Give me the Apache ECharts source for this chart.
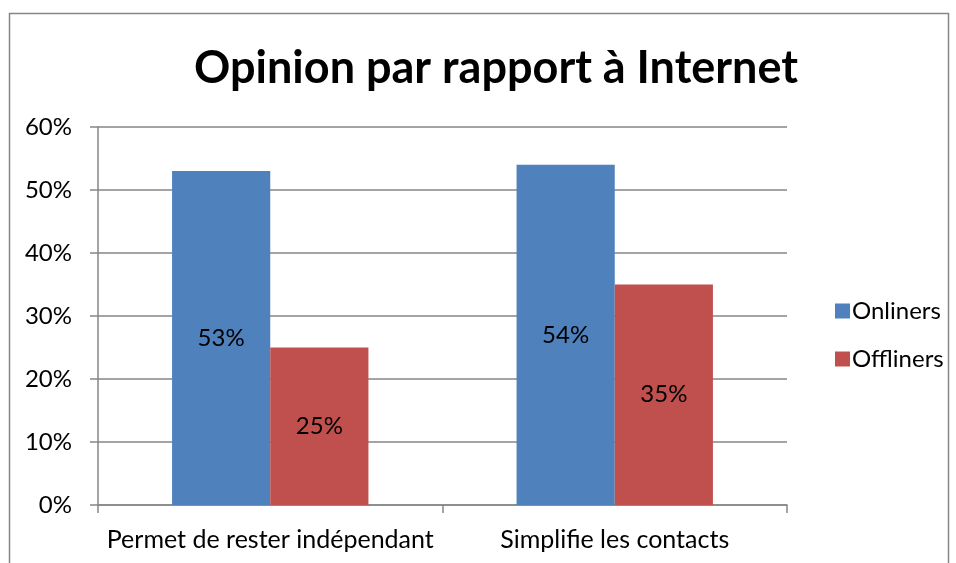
<!DOCTYPE html>
<html><head><meta charset="utf-8">
<script src="https://cdn.jsdelivr.net/npm/echarts@6/dist/echarts.min.js"></script>
<style>html,body{margin:0;padding:0;background:#fff}#c{width:956px;height:563px}</style>
</head><body><div id="c"></div>
<script>
const categories = ['Permet de rester indépendant', 'Simplifie les contacts'];
const onliners = [53, 54];
const offliners = [25, 35];
const yTicks = [0, 10, 20, 30, 40, 50, 60];

const font = 'Lato, "Open Sans", sans-serif';
const chart = echarts.init(document.getElementById('c'));
chart.setOption({
  animation: false,
  backgroundColor: '#fff',
  title: {
    text: 'Opinion par rapport à Internet',
    left: 491, top: 41, textAlign: 'center',
    textStyle: {fontFamily: font, fontWeight: 'bold', fontSize: 45, color: '#000'}
  },
  graphic: [{
    type: 'rect', shape: {x: 9.5, y: 13.5, width: 939, height: 600},
    style: {fill: 'none', stroke: '#868686', lineWidth: 1.5}, silent: true
  }],
  legend: {
    orient: 'vertical', left: 830, top: 294, itemGap: 24,
    itemWidth: 15, itemHeight: 15, icon: 'rect',
    textStyle: {fontFamily: font, fontSize: 24, color: '#000', padding: [0,0,0,-3]}
  },
  grid: {left: 98, right: 169, top: 127, bottom: 58},
  xAxis: {
    type: 'category', data: categories,
    axisLine: {lineStyle: {color: '#868686', width: 1.5}},
    axisTick: {show: true, length: 8, lineStyle: {color: '#868686', width: 1.5}},
    axisLabel: {interval: 0, fontFamily: font, fontSize: 25, color: '#000', margin: 22}
  },
  yAxis: {
    type: 'value', min: 0, max: 60, interval: 10,
    axisLine: {show: true, lineStyle: {color: '#868686', width: 1.5}},
    axisTick: {show: true, length: 8, lineStyle: {color: '#868686', width: 1.5}},
    splitLine: {lineStyle: {color: '#868686', width: 1.5}},
    axisLabel: {fontFamily: font, fontSize: 24, color: '#000', margin: 26,
      formatter: v => yTicks.includes(v) ? v + '%' : ''}
  },
  series: [
    {name: 'Onliners', type: 'bar', data: onliners, barGap: '0%', barCategoryGap: '43%',
     itemStyle: {color: '#4F81BD'},
     label: {show: true, position: 'inside', formatter: '{c}%', fontFamily: font, fontSize: 24, color: '#000'}},
    {name: 'Offliners', type: 'bar', data: offliners,
     itemStyle: {color: '#C0504D'},
     label: {show: true, position: 'inside', formatter: '{c}%', fontFamily: font, fontSize: 24, color: '#000'}}
  ]
});
</script></body></html>
